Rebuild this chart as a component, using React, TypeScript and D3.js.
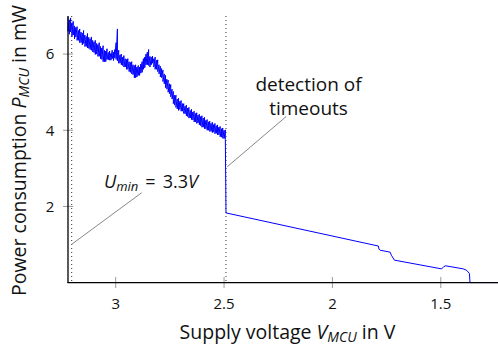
import React from "react";
import * as d3 from "d3";

// Noisy segment: sampled supply voltage (V) with max / min power (mW) per sample window
const noisyVoltage = [
  3.220, 3.214, 3.208, 3.202, 3.196, 3.190, 3.184, 3.178, 3.172, 3.166,
  3.160, 3.154, 3.148, 3.142, 3.136, 3.130, 3.124, 3.118, 3.112, 3.106,
  3.100, 3.094, 3.088, 3.082, 3.076, 3.070, 3.064, 3.058, 3.052, 3.046,
  3.040, 3.034, 3.028, 3.022, 3.016, 3.010, 3.004, 2.998, 2.992, 2.986,
  2.980, 2.974, 2.968, 2.962, 2.956, 2.950, 2.944, 2.938, 2.932, 2.926,
  2.920, 2.914, 2.908, 2.902, 2.896, 2.890, 2.884, 2.878, 2.872, 2.866,
  2.860, 2.854, 2.848, 2.842, 2.836, 2.830, 2.824, 2.818, 2.812, 2.806,
  2.800, 2.794, 2.788, 2.782, 2.776, 2.770, 2.764, 2.758, 2.752, 2.746,
  2.740, 2.734, 2.728, 2.722, 2.716, 2.710, 2.704, 2.698, 2.692, 2.686,
  2.680, 2.674, 2.668, 2.662, 2.656, 2.650, 2.644, 2.638, 2.632, 2.626,
  2.620, 2.614, 2.608, 2.602, 2.596, 2.590, 2.584, 2.578, 2.572, 2.566,
  2.560, 2.554, 2.548, 2.542, 2.536, 2.530, 2.524, 2.518, 2.512, 2.506,
  2.500, 2.494,
];
const noisyMax = [
  6.98, 6.90, 6.95, 6.82, 6.86, 6.74, 6.70, 6.72, 6.62, 6.66,
  6.58, 6.55, 6.62, 6.50, 6.46, 6.54, 6.44, 6.40, 6.45, 6.36,
  6.32, 6.36, 6.28, 6.25, 6.30, 6.20, 6.16, 6.22, 6.10, 6.08,
  6.14, 6.04, 6.08, 6.02, 6.10, 6.05, 6.12, 6.30, 6.66, 6.10,
  5.98, 6.00, 5.92, 5.96, 5.88, 5.86, 5.88, 5.80, 5.78, 5.80,
  5.72, 5.70, 5.72, 5.66, 5.70, 5.66, 5.74, 5.80, 5.88, 5.92,
  6.00, 6.05, 6.12, 5.94, 5.92, 5.95, 5.88, 5.92, 5.84, 5.85,
  5.72, 5.68, 5.62, 5.58, 5.48, 5.44, 5.34, 5.32, 5.22, 5.20,
  5.08, 5.02, 4.92, 4.92, 4.82, 4.84, 4.76, 4.78, 4.70, 4.70,
  4.63, 4.66, 4.58, 4.60, 4.52, 4.55, 4.48, 4.50, 4.44, 4.46,
  4.40, 4.42, 4.36, 4.38, 4.32, 4.34, 4.26, 4.28, 4.22, 4.24,
  4.18, 4.21, 4.15, 4.18, 4.12, 4.14, 4.08, 4.10, 4.04, 4.06,
  4.00, 4.01,
];
const noisyMin = [
  6.60, 6.52, 6.58, 6.46, 6.50, 6.40, 6.45, 6.36, 6.36, 6.30,
  6.30, 6.24, 6.28, 6.20, 6.20, 6.16, 6.15, 6.12, 6.10, 6.06,
  6.04, 5.99, 6.00, 5.94, 5.94, 5.88, 5.86, 5.80, 5.80, 5.80,
  5.86, 5.85, 5.84, 5.84, 5.88, 5.83, 5.90, 5.86, 5.82, 5.76,
  5.76, 5.72, 5.70, 5.66, 5.66, 5.60, 5.60, 5.54, 5.52, 5.48,
  5.46, 5.38, 5.38, 5.40, 5.44, 5.44, 5.50, 5.52, 5.60, 5.64,
  5.72, 5.72, 5.70, 5.66, 5.72, 5.76, 5.66, 5.60, 5.60, 5.54,
  5.48, 5.40, 5.38, 5.28, 5.22, 5.12, 5.08, 5.00, 4.96, 4.88,
  4.82, 4.70, 4.66, 4.60, 4.56, 4.52, 4.55, 4.50, 4.50, 4.44,
  4.43, 4.38, 4.36, 4.32, 4.32, 4.28, 4.27, 4.22, 4.22, 4.18,
  4.19, 4.14, 4.12, 4.08, 4.08, 4.04, 4.04, 4.00, 4.00, 3.97,
  3.97, 3.94, 3.95, 3.91, 3.92, 3.88, 3.88, 3.83, 3.82, 3.79,
  3.78, 3.76,
];
// After timeout detection
const tailVoltage = [2.491, 1.788, 1.785, 1.780, 1.734, 1.728, 1.714, 1.496, 1.486, 1.477, 1.396, 1.380, 1.368, 1.365, 1.236];
const tailPower = [1.83, 0.96, 0.88, 0.85, 0.80, 0.72, 0.59, 0.36, 0.42, 0.44, 0.36, 0.32, 0.24, 0.0, 0.0];

const xTicks = [3, 2.5, 2, 1.5];
const yTicks = [2, 4, 6];
const markerVoltages = [3.203, 2.491];

const W = 498;
const H = 347;
const FONT = "'Open Sans', sans-serif";

export default function App() {
  const x = d3.scaleLinear().domain([3.22, 1.236]).range([68, 498]);
  const y = d3.scaleLinear().domain([0, 7]).range([282.6, 16]);

  const pts: [number, number][] = [];
  noisyVoltage.forEach((v, i) => {
    pts.push([v, noisyMax[i]]);
    pts.push([v, noisyMin[i]]);
  });
  tailVoltage.forEach((v, i) => pts.push([v, tailPower[i]]));

  const line = d3
    .line<[number, number]>()
    .x((d) => x(d[0]))
    .y((d) => y(d[1]));

  const fs = 19.5;
  const sub = 14;
  const afs = 19;

  return (
    <svg
      width={W}
      height={H}
      style={{ position: "absolute", left: 0, top: 0, background: "#fff" }}
      fontFamily={FONT}
    >
      {markerVoltages.map((v, i) => (
        <line
          key={i}
          x1={x(v)}
          x2={x(v)}
          y1={y(7)}
          y2={y(0)}
          stroke="#333"
          strokeWidth={1}
          strokeDasharray="1,3"
        />
      ))}

      {yTicks.map((t) => (
        <g key={t}>
          <line x1={63} x2={73} y1={y(t)} y2={y(t)} stroke="#999" strokeWidth={1} />
          <text x={50} y={y(t)} dy="0.36em" textAnchor="middle" fontSize={15} fill="#111">
            {t}
          </text>
        </g>
      ))}
      {xTicks.map((t) => (
        <g key={t}>
          <line x1={x(t)} x2={x(t)} y1={277} y2={288} stroke="#999" strokeWidth={1} />
          <text x={x(t)} y={309} textAnchor="middle" fontSize={15} fill="#111">
            {t}
          </text>
        </g>
      ))}

      <path d={line(pts) || ""} fill="none" stroke="#0000ff" strokeWidth={1} strokeLinejoin="round" />

      <line x1={68} x2={68} y1={16} y2={283} stroke="#000" strokeWidth={1.3} />
      <line x1={67.5} x2={498} y1={282.6} y2={282.6} stroke="#000" strokeWidth={1.3} />

      <line x1={286} y1={116.7} x2={227.3} y2={166.7} stroke="#888" strokeWidth={1} />
      <text x={308.5} y={91} textAnchor="middle" fontSize={afs} fill="#111">
        detection of
      </text>
      <text x={308.5} y={115} textAnchor="middle" fontSize={afs} fill="#111">
        timeouts
      </text>

      <line x1={141.7} y1={192.7} x2={71.7} y2={244.3} stroke="#888" strokeWidth={1} />
      <text x={104} y={187.5} fontSize={18} fill="#111">
        <tspan fontStyle="italic">U</tspan>
        <tspan fontStyle="italic" fontSize={13} dy={3.5}>min</tspan>
        <tspan dy={-3.5} dx={7}>=</tspan>
        <tspan dx={7}>3.3</tspan>
        <tspan fontStyle="italic">V</tspan>
      </text>

      <text x={287.5} y={339.3} textAnchor="middle" fontSize={fs} fill="#111">
        Supply voltage <tspan fontStyle="italic">V</tspan>
        <tspan fontStyle="italic" fontSize={sub} dy={3}>MCU</tspan>
        <tspan dy={-3}> in V</tspan>
      </text>
      <text transform={`translate(26,150.5) rotate(-90)`} textAnchor="middle" fontSize={fs} fill="#111">
        Power consumption <tspan fontStyle="italic">P</tspan>
        <tspan fontStyle="italic" fontSize={sub} dy={3}>MCU</tspan>
        <tspan dy={-3}> in mW</tspan>
      </text>
    </svg>
  );
}
